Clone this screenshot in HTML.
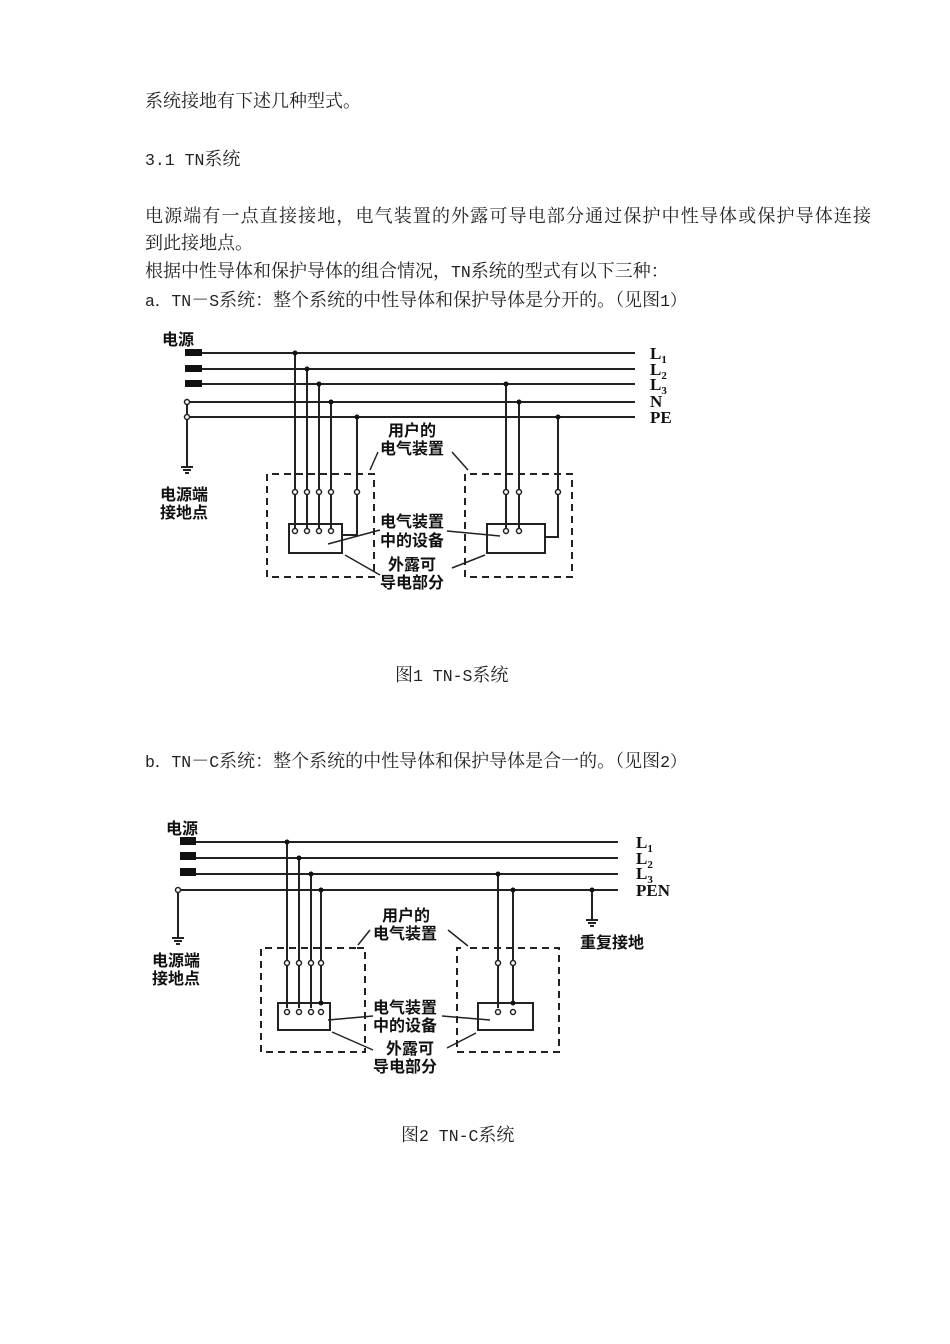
<!DOCTYPE html>
<html><head><meta charset="utf-8"><style>
html,body{margin:0;padding:0;background:#fff;width:950px;height:1344px;overflow:hidden}
.t{font-family:"Liberation Mono","Noto Serif CJK SC",monospace;font-size:16.5px;fill:#222}
.c{font-family:"Noto Serif CJK SC","Noto Sans CJK SC",serif;font-size:18px}
.d{font-family:"Noto Sans CJK SC","WenQuanYi Zen Hei",sans-serif;font-size:16px;font-weight:bold;fill:#111}
.l{font-family:"Liberation Serif",serif;font-size:17px;font-weight:bold;fill:#111}
</style></head><body>
<svg width="950" height="1344" xmlns="http://www.w3.org/2000/svg">
<g class="t">
<text x="145" y="107"><tspan class="c">系统接地有下述几种型式。</tspan></text>
<text x="145" y="165">3.1 TN<tspan class="c">系统</tspan></text>
<text x="145" y="222" class="c" textLength="726" lengthAdjust="spacing">电源端有一点直接接地，电气装置的外露可导电部分通过保护中性导体或保护导体连接</text>
<text x="145" y="249" class="c">到此接地点。</text>
<text x="145" y="277"><tspan class="c">根据中性导体和保护导体的组合情况，</tspan>TN<tspan class="c">系统的型式有以下三种：</tspan></text>
<text x="145" y="306">a．TN<tspan class="c">－</tspan>S<tspan class="c">系统：整个系统的中性导体和保护导体是分开的。（见图</tspan>1）</text>
<text x="395" y="681"><tspan class="c">图</tspan>1 TN-S<tspan class="c">系统</tspan></text>
<text x="145" y="767">b．TN<tspan class="c">－</tspan>C<tspan class="c">系统：整个系统的中性导体和保护导体是合一的。（见图</tspan>2）</text>
<text x="401" y="1141"><tspan class="c">图</tspan>2 TN-C<tspan class="c">系统</tspan></text>
</g>

<!-- Diagram 1 -->
<g stroke="#222" stroke-width="2" fill="none">
<line x1="200" y1="353" x2="635" y2="353"/>
<line x1="200" y1="369" x2="635" y2="369"/>
<line x1="200" y1="384" x2="635" y2="384"/>
<line x1="187" y1="402" x2="635" y2="402"/>
<line x1="187" y1="417" x2="635" y2="417"/>
<line x1="187" y1="402" x2="187" y2="467"/>
<line x1="181" y1="467" x2="193" y2="467"/><line x1="183" y1="470" x2="191" y2="470"/><line x1="185" y1="473" x2="189" y2="473"/>
<line x1="295" y1="353" x2="295" y2="528"/>
<line x1="307" y1="369" x2="307" y2="528"/>
<line x1="319" y1="384" x2="319" y2="528"/>
<line x1="331" y1="402" x2="331" y2="528"/>
<polyline points="357,417 357,535 342,535"/>
<rect x="289" y="524" width="53" height="29"/>
<line x1="506" y1="384" x2="506" y2="528"/>
<line x1="519" y1="402" x2="519" y2="528"/>
<polyline points="558,417 558,537 545,537"/>
<rect x="487" y="524" width="58" height="29"/>
<g stroke-dasharray="7,5">
<polyline points="368,474 374,474 374,577 267,577 267,474 366,474"/>
<polyline points="470,474 572,474 572,577 465,577 465,474"/>
</g>
<line x1="380" y1="530" x2="328" y2="544" stroke-width="1.5"/>
<line x1="447" y1="531" x2="500" y2="536" stroke-width="1.5"/>
<line x1="380" y1="575" x2="345" y2="555" stroke-width="1.5"/>
<line x1="452" y1="568" x2="485" y2="555" stroke-width="1.5"/>
<line x1="378" y1="452" x2="370" y2="470" stroke-width="1.5"/>
<line x1="452" y1="452" x2="468" y2="470" stroke-width="1.5"/>
</g>
<g fill="#111">
<rect x="185" y="349" width="17" height="7"/><rect x="185" y="365" width="17" height="7"/><rect x="185" y="380" width="17" height="7"/>
<circle cx="295" cy="353" r="2.5"/><circle cx="307" cy="369" r="2.5"/><circle cx="319" cy="384" r="2.5"/><circle cx="331" cy="402" r="2.5"/><circle cx="357" cy="417" r="2.5"/>
<circle cx="506" cy="384" r="2.5"/><circle cx="519" cy="402" r="2.5"/><circle cx="558" cy="417" r="2.5"/>
</g>
<g fill="#fff" stroke="#222" stroke-width="1.5">
<circle cx="187" cy="402" r="2.5"/><circle cx="187" cy="417" r="2.5"/>
<circle cx="295" cy="492" r="2.5"/><circle cx="307" cy="492" r="2.5"/><circle cx="319" cy="492" r="2.5"/><circle cx="331" cy="492" r="2.5"/><circle cx="357" cy="492" r="2.5"/>
<circle cx="295" cy="531" r="2.5"/><circle cx="307" cy="531" r="2.5"/><circle cx="319" cy="531" r="2.5"/><circle cx="331" cy="531" r="2.5"/>
<circle cx="506" cy="492" r="2.5"/><circle cx="519" cy="492" r="2.5"/><circle cx="558" cy="492" r="2.5"/>
<circle cx="506" cy="531" r="2.5"/><circle cx="519" cy="531" r="2.5"/>
</g>
<text class="d" x="162" y="345">电源</text>
<text class="l" x="650" y="359">L<tspan font-size="11" dy="4">1</tspan></text>
<text class="l" x="650" y="375">L<tspan font-size="11" dy="4">2</tspan></text>
<text class="l" x="650" y="390">L<tspan font-size="11" dy="4">3</tspan></text>
<text class="l" x="650" y="407">N</text>
<text class="l" x="650" y="423">PE</text>
<text class="d" x="160" y="500">电源端</text><text class="d" x="160" y="518">接地点</text>
<text class="d" x="388" y="436">用户的</text><text class="d" x="380" y="454">电气装置</text>
<text class="d" x="380" y="527">电气装置</text><text class="d" x="380" y="546">中的设备</text>
<text class="d" x="388" y="570">外露可</text><text class="d" x="380" y="588">导电部分</text>

<!-- Diagram 2 -->
<g stroke="#222" stroke-width="2" fill="none">
<line x1="195" y1="842" x2="618" y2="842"/>
<line x1="195" y1="858" x2="618" y2="858"/>
<line x1="195" y1="874" x2="618" y2="874"/>
<line x1="178" y1="890" x2="618" y2="890"/>
<line x1="178" y1="890" x2="178" y2="938"/>
<line x1="172" y1="938" x2="184" y2="938"/><line x1="174" y1="941" x2="182" y2="941"/><line x1="176" y1="944" x2="180" y2="944"/>
<line x1="592" y1="890" x2="592" y2="920"/>
<line x1="586" y1="920" x2="598" y2="920"/><line x1="588" y1="923" x2="596" y2="923"/><line x1="590" y1="926" x2="594" y2="926"/>
<line x1="287" y1="842" x2="287" y2="1008"/>
<line x1="299" y1="858" x2="299" y2="1008"/>
<line x1="311" y1="874" x2="311" y2="1008"/>
<line x1="321" y1="890" x2="321" y2="1003"/>
<rect x="278" y="1003" width="52" height="27"/>
<line x1="498" y1="874" x2="498" y2="1008"/>
<line x1="513" y1="890" x2="513" y2="1003"/>
<rect x="478" y="1003" width="55" height="27"/>
<g stroke-dasharray="7,5">
<polyline points="357,948 365,948 365,1052 261,1052 261,948 357,948"/>
<polyline points="470,948 559,948 559,1052 457,1052 457,948 462,948"/>
</g>
<line x1="373" y1="1016" x2="328" y2="1020" stroke-width="1.5"/>
<line x1="442" y1="1016" x2="490" y2="1020" stroke-width="1.5"/>
<line x1="373" y1="1050" x2="332" y2="1032" stroke-width="1.5"/>
<line x1="447" y1="1048" x2="476" y2="1033" stroke-width="1.5"/>
<line x1="370" y1="930" x2="358" y2="945" stroke-width="1.5"/>
<line x1="448" y1="930" x2="468" y2="946" stroke-width="1.5"/>
</g>
<g fill="#111">
<rect x="180" y="837" width="16" height="8"/><rect x="180" y="852" width="16" height="8"/><rect x="180" y="868" width="16" height="8"/>
<circle cx="287" cy="842" r="2.5"/><circle cx="299" cy="858" r="2.5"/><circle cx="311" cy="874" r="2.5"/><circle cx="321" cy="890" r="2.5"/>
<circle cx="498" cy="874" r="2.5"/><circle cx="513" cy="890" r="2.5"/><circle cx="592" cy="890" r="2.5"/>
<circle cx="321" cy="1003" r="2.5"/><circle cx="513" cy="1003" r="2.5"/>
</g>
<g fill="#fff" stroke="#222" stroke-width="1.5">
<circle cx="178" cy="890" r="2.5"/>
<circle cx="287" cy="963" r="2.5"/><circle cx="299" cy="963" r="2.5"/><circle cx="311" cy="963" r="2.5"/><circle cx="321" cy="963" r="2.5"/>
<circle cx="287" cy="1012" r="2.5"/><circle cx="299" cy="1012" r="2.5"/><circle cx="311" cy="1012" r="2.5"/><circle cx="321" cy="1012" r="2.5"/>
<circle cx="498" cy="963" r="2.5"/><circle cx="513" cy="963" r="2.5"/>
<circle cx="498" cy="1012" r="2.5"/><circle cx="513" cy="1012" r="2.5"/>
</g>
<text class="d" x="166" y="834">电源</text>
<text class="l" x="636" y="848">L<tspan font-size="11" dy="4">1</tspan></text>
<text class="l" x="636" y="864">L<tspan font-size="11" dy="4">2</tspan></text>
<text class="l" x="636" y="879">L<tspan font-size="11" dy="4">3</tspan></text>
<text class="l" x="636" y="896">PEN</text>
<text class="d" x="580" y="948">重复接地</text>
<text class="d" x="152" y="966">电源端</text><text class="d" x="152" y="984">接地点</text>
<text class="d" x="382" y="921">用户的</text><text class="d" x="373" y="939">电气装置</text>
<text class="d" x="373" y="1013">电气装置</text><text class="d" x="373" y="1031">中的设备</text>
<text class="d" x="386" y="1054">外露可</text><text class="d" x="373" y="1072">导电部分</text>
</svg>
</body></html>
